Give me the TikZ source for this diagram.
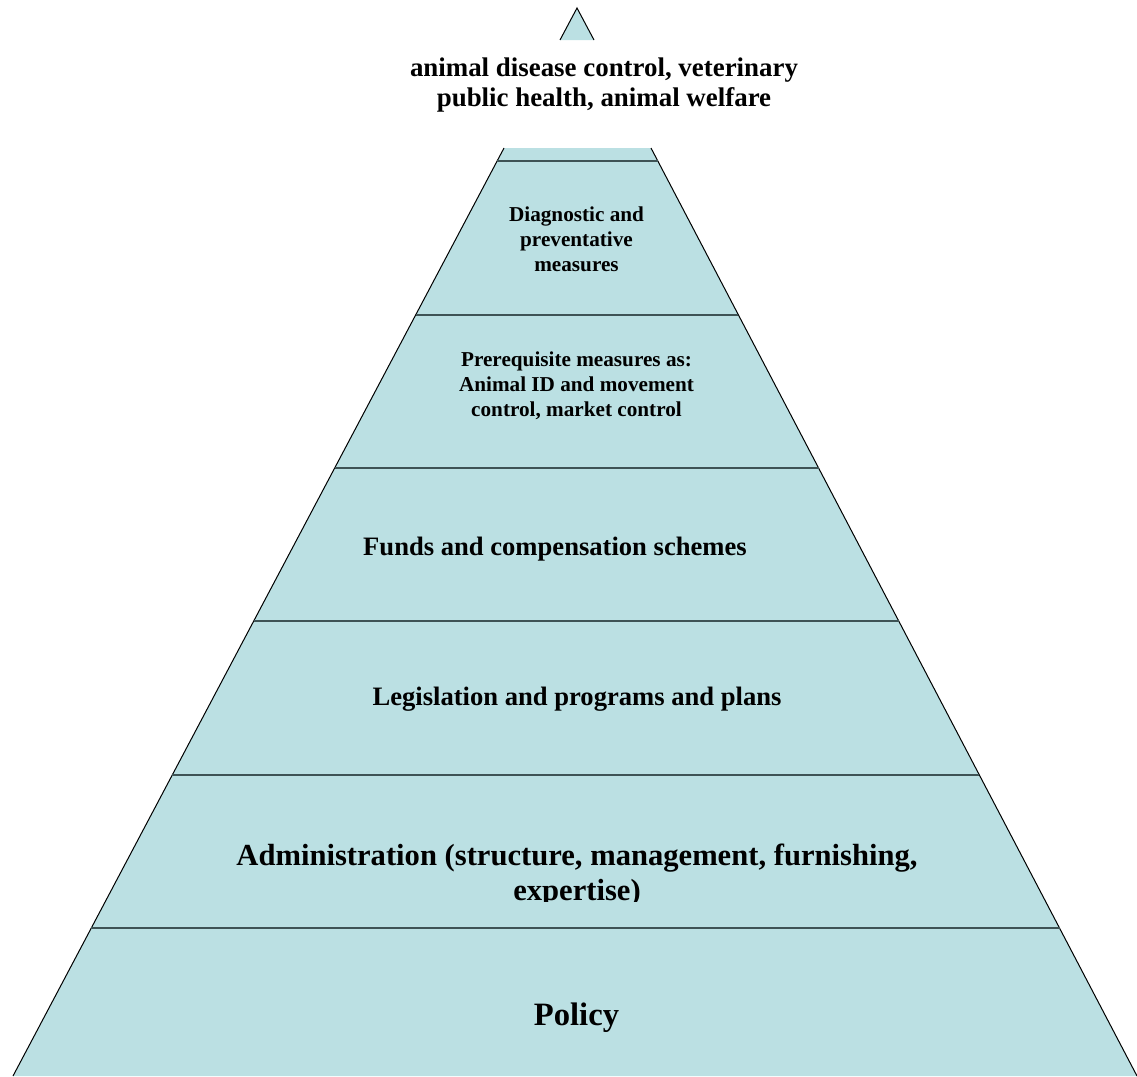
\documentclass[tikz,border=0pt]{standalone}
\usepackage{fontspec}
\setmainfont{Liberation Serif}
\definecolor{pyrfill}{HTML}{BBE0E3}
\definecolor{divline}{HTML}{3E5355}
\begin{document}
\begin{tikzpicture}[x=1pt,y=-1pt,
  side/.style={draw=black,line width=1pt},
  divider/.style={draw=divline,line width=2pt},
  lbl/.style={align=center,inner sep=0pt,anchor=base,text=black},
  fsmall/.style={font=\fontsize{21.2}{24.6}\selectfont\bfseries},
  fmed/.style={font=\fontsize{26.6}{30.6}\selectfont\bfseries},
  flarge/.style={font=\fontsize{30.6}{35}\selectfont\bfseries},
  fhuge/.style={font=\fontsize{32.6}{37}\selectfont\bfseries}]
\useasboundingbox (0,0) rectangle (1137,1076);
% top small triangle
\coordinate (tL) at (560,40);
\coordinate (tA) at (577,8);
\coordinate (tR) at (594,40);
\fill[pyrfill] (tL) -- (tA) -- (tR) -- cycle;
\draw[side] (tL) -- (tA) -- (tR);
% main trapezoid
\coordinate (pTL) at (504,148);
\coordinate (pTR) at (651,148);
\coordinate (pBR) at (1137,1076);
\coordinate (pBL) at (13,1076);
\fill[pyrfill] (pTL) -- (pTR) -- (pBR) -- (pBL) -- cycle;
\draw[side] (pTL) -- (pBL);
\draw[side] (pTR) -- (pBR);
% dividers
\coordinate (d1l) at (497.1,161);   \coordinate (d1r) at (657.8,161);
\coordinate (d2l) at (415.9,314.5); \coordinate (d2r) at (738.2,314.5);
\coordinate (d3l) at (334.7,468);   \coordinate (d3r) at (818.6,468);
\coordinate (d4l) at (253.8,621);   \coordinate (d4r) at (898.7,621);
\coordinate (d5l) at (172.3,775);   \coordinate (d5r) at (979.4,775);
\coordinate (d6l) at (91.4,928);    \coordinate (d6r) at (1059.5,928);
\draw[divider] (d1l) -- (d1r);
\draw[divider] (d2l) -- (d2r);
\draw[divider] (d3l) -- (d3r);
\draw[divider] (d4l) -- (d4r);
\draw[divider] (d5l) -- (d5r);
\draw[divider] (d6l) -- (d6r);
% texts (base anchor = baseline of the last line)
\node[lbl,font=\fontsize{26.9}{30.5}\selectfont\bfseries] (goal) at (604,106.5) {animal disease control, veterinary\\public health, animal welfare};
\node[lbl,fsmall] (diag) at (576.5,271) {Diagnostic and\\preventative\\measures};
\node[lbl,fsmall] (prereq) at (576.5,416) {Prerequisite measures as:\\Animal ID and movement\\control, market control};
\node[lbl,fmed] (funds) at (555,555) {Funds and compensation schemes};
\node[lbl,fmed] (legis) at (577,705) {Legislation and programs and plans};
\begin{scope}
\clip (0,0) rectangle (1137,901);
\node[lbl,flarge] (admin) at (577,900.7) {Administration (structure, management, furnishing,\\expertise)};
\end{scope}
\node[lbl,fhuge] (policy) at (576.5,1025) {Policy};
\end{tikzpicture}
\end{document}
